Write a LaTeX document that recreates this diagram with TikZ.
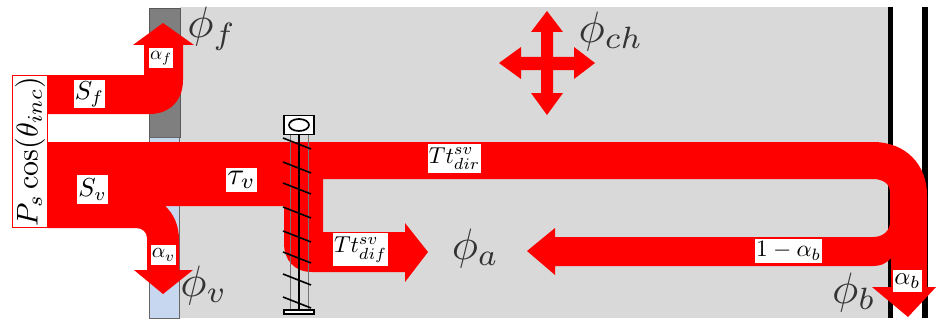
\documentclass[tikz,border=0pt]{standalone}
\usetikzlibrary{shapes.geometric}
\definecolor{bgray}{HTML}{D9D9D9}
\definecolor{dgray}{HTML}{7F7F7F}
\definecolor{lblue}{HTML}{C6D7EF}
\definecolor{ared}{HTML}{FF0000}
\tikzset{
  flow/.style={fill=ared,draw=none},
  lab/.style={fill=white,inner sep=0.4pt,text=black},
  philab/.style={scale=4.4,inner sep=0pt,text=black!80},
  bar/.style={fill=black,draw=none},
  leaf/.style={draw=black,line width=1.6pt},
  mullion/.style={draw=black,line width=1.6pt},
  thinline/.style={draw=black!55,line width=0.6pt},
  framebox/.style={draw=black,line width=1.7pt,fill=white,inner sep=0pt}
}
\begin{document}
\begin{tikzpicture}[x=1pt,y=-1pt]
\useasboundingbox (0,0) rectangle (936,321);
% room and walls
\fill[bgray] (180,7) rectangle (888,318);
\fill[draw=black!65,line width=0.6pt,fill=dgray] (149,8) rectangle (180,137);
\fill[draw=black!60,line width=0.6pt,fill=lblue] (149,137) rectangle (179,318);
\fill[bar] (888,7) rectangle (893,318);
\fill[bar] (922,7) rectangle (928,318);
% flows
\fill[flow] (48,75) -- (144,75) -- (144,45) -- (133,45) -- (163,23) -- (194,45) -- (183,45) -- (183,80)
  .. controls (183,102) and (168,114) .. (150,114) -- (48,114) -- cycle;
\fill[flow] (48,142) -- (873,142) .. controls (906,142) and (927,165) .. (927,195)
  -- (927,287) -- (936,287) -- (908,317) -- (872,287) -- (891,287) -- (891,258)
  .. controls (886,264) and (880,266) .. (873,266) -- (555,266) -- (555,275) -- (527,251) -- (555,228) -- (555,237)
  -- (873,237) .. controls (884,237) and (890,230) .. (890,222) -- (890,192)
  .. controls (890,184) and (883,179) .. (873,179) -- (323,179) -- (323,232) -- (405,232) -- (405,223)
  -- (428,252) -- (405,282) -- (405,272) -- (312,272) .. controls (294,272) and (284,260) .. (284,243)
  -- (284,206) -- (165,206) .. controls (174,214) and (179,226) .. (179,240) -- (179,270) -- (193,270)
  -- (163,294) -- (134,270) -- (147,270) -- (147,238) .. controls (147,232) and (142,228) .. (136,228)
  -- (48,228) -- cycle;
% cross
\fill[flow] (541,57) -- (541,32) -- (531,32) -- (547,11) -- (563,32) -- (553,32) -- (553,57)
  -- (574,57) -- (574,47) -- (595,63) -- (574,79) -- (574,70) -- (553,70) -- (553,93) -- (563,93)
  -- (547,115) -- (531,93) -- (541,93) -- (541,70) -- (521,70) -- (521,79) -- (499,63) -- (521,47)
  -- (521,57) -- cycle;
% canopy
\draw[thinline] (290,135) -- (290,309);
\draw[thinline] (308,135) -- (308,309);
\draw[mullion] (299,135) -- (299,309);
\foreach \yy in {138,162,183,207,231,252,274,297}
  \draw[leaf] (283,\yy) -- (311,\yy+11);
\node[framebox,minimum width=30pt,minimum height=19pt] (top) at (299,125) {};
\node[draw=black,line width=1.7pt,ellipse,minimum width=20pt,minimum height=12pt,inner sep=0pt] (ell) at (299,125) {};
\node[framebox,minimum width=30pt,minimum height=4.5pt] (base) at (299,312) {};
% incoming
\node[draw=ared,line width=1pt,fill=white,minimum width=35pt,minimum height=152pt,inner sep=0pt] (inc) at (30,151.5) {};
\node[rotate=90,scale=3,inner sep=0pt,text=black] (inclab) at (30,151.5) {$P_s\cos(\theta_{inc})$};
% labels
\node[lab,scale=2.6,minimum height=10.8pt] (sf) at (89.5,94) {$S_f$};
\node[lab,scale=2.6,minimum height=11pt] (sv) at (92.5,189.5) {$S_v$};
\node[lab,scale=3.1,inner sep=0.3pt,minimum height=7.8pt] (tv) at (241.5,180) {$\tau_v$};
\node[lab,scale=1.9,minimum height=10.5pt] (af) at (161,58) {$\alpha_f$};
\node[lab,scale=2.1,minimum height=9.5pt] (av) at (163.5,255) {$\alpha_v$};
\node[lab,scale=2.3,minimum height=12.6pt] (dir) at (454.5,158.5) {$Tt_{dir}^{sv}$};
\node[lab,scale=2.3,minimum height=14.3pt] (dif) at (360.5,249.5) {$Tt_{dif}^{sv}$};
\node[lab,scale=2.35,minimum height=10.2pt] (ab1) at (788.5,251) {$1-\alpha_b$};
\node[lab,scale=2.5,minimum height=8.8pt] (ab) at (907.5,281) {$\alpha_b$};
\node[philab] (pf) at (212,29) {$\phi_f$};
\node[philab] (pv) at (204,285) {$\phi_v$};
\node[philab] (pa) at (475.5,248) {$\phi_a$};
\node[philab] (pc) at (611,31) {$\phi_{ch}$};
\node[philab] (pb) at (854,292) {$\phi_b$};
\end{tikzpicture}
\end{document}
